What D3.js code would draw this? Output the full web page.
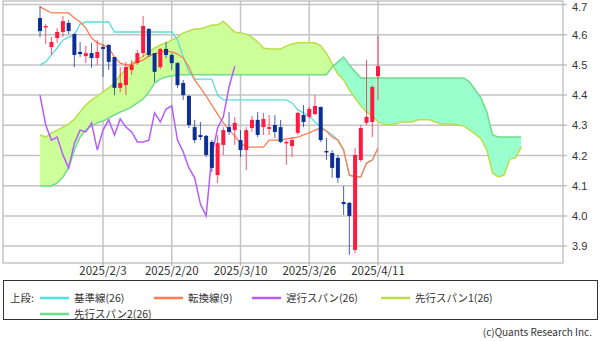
<!DOCTYPE html>
<html>
<head>
<meta charset="utf-8">
<script src="https://cdn.jsdelivr.net/npm/d3@7"></script>
<style>
body { margin: 0; background: #fff; }
text { font-family: "Noto Sans CJK JP", "Noto Sans", sans-serif; fill: #333; }
text.ptick { font-family: "Liberation Sans", Arial, sans-serif; }
</style>
</head>
<body>
<svg id="chart" width="601" height="341"></svg>
<script>
// daily candles, 2025/1/16 .. 2025/4/11
const opens = [4.655,4.626,4.559,4.589,4.609,4.639,4.602,4.543,4.529,4.539,4.523,4.559,4.566,4.526,4.424,4.433,4.483,4.506,4.539,4.619,
    4.539,4.493,4.553,4.533,4.506,4.440,4.397,4.294,4.268,4.265,4.245,4.135,4.235,4.294,4.284,4.251,4.218,4.291,4.318,4.294,
    4.288,4.301,4.294,4.241,4.231,4.275,4.334,4.328,4.337,4.361,4.215,4.208,4.192,4.046,4.043,3.887,4.185,4.308,4.311,4.463];
const highs = [4.695,4.635,4.592,4.622,4.662,4.649,4.606,4.576,4.563,4.573,4.582,4.566,4.569,4.526,4.493,4.510,4.516,4.549,4.662,4.622,
    4.539,4.556,4.576,4.539,4.510,4.450,4.400,4.318,4.311,4.268,4.251,4.268,4.294,4.344,4.328,4.284,4.294,4.331,4.344,4.341,
    4.334,4.334,4.318,4.251,4.258,4.344,4.367,4.361,4.400,4.361,4.258,4.218,4.202,4.099,4.046,4.225,4.301,4.516,4.433,4.596];
const lows = [4.592,4.569,4.533,4.573,4.592,4.602,4.493,4.526,4.506,4.490,4.500,4.460,4.483,4.400,4.410,4.400,4.467,4.500,4.526,4.526,
    4.443,4.486,4.523,4.483,4.424,4.384,4.291,4.241,4.251,4.195,4.145,4.109,4.202,4.268,4.235,4.195,4.152,4.278,4.261,4.268,
    4.268,4.258,4.241,4.169,4.195,4.268,4.294,4.324,4.334,4.245,4.185,4.126,4.109,4.003,3.871,3.877,4.179,4.301,4.261,4.384];
const closes = [4.612,4.629,4.576,4.609,4.645,4.612,4.533,4.536,4.539,4.523,4.543,4.553,4.510,4.424,4.440,4.493,4.500,4.539,4.629,4.533,
    4.477,4.553,4.533,4.506,4.433,4.400,4.301,4.251,4.261,4.202,4.159,4.241,4.284,4.278,4.308,4.218,4.284,4.318,4.268,4.321,
    4.294,4.278,4.245,4.245,4.251,4.341,4.311,4.354,4.364,4.251,4.212,4.159,4.126,4.039,4.000,4.202,4.291,4.328,4.427,4.496];

const tenkan = [4.692,4.682,4.672,4.672,4.672,4.672,4.655,4.642,4.622,4.589,4.573,4.566,4.556,4.526,4.506,4.500,4.500,4.510,4.516,4.529,
    4.536,4.543,4.546,4.543,4.536,4.523,4.493,4.450,4.424,4.397,4.367,4.337,4.308,4.284,4.265,4.241,4.228,4.228,4.228,4.228,
    4.251,4.251,4.251,4.255,4.258,4.261,4.268,4.275,4.284,4.291,4.281,4.261,4.251,4.218,4.135,4.129,4.129,4.175,4.185,4.225];
const kijun = [4.500,4.510,4.533,4.556,4.582,4.592,4.599,4.635,4.642,4.642,4.642,4.642,4.642,4.609,4.609,4.609,4.609,4.609,4.609,4.609,
    4.609,4.609,4.609,4.609,4.582,4.526,4.477,4.453,4.453,4.453,4.453,4.400,4.384,4.384,4.384,4.384,4.384,4.384,4.384,4.384,
    4.384,4.384,4.384,4.384,4.374,4.351,4.341,4.331,4.311,4.294,4.281,4.268,4.251,4.218,4.135,4.129,4.129,4.175,4.185,4.225];

// leading spans, already shifted forward (85 points)
const spanA = [4.268,4.261,4.275,4.284,4.294,4.304,4.321,4.344,4.367,4.384,
    4.397,4.410,4.424,4.440,4.467,4.486,4.506,4.516,4.529,4.543,
    4.556,4.566,4.573,4.582,4.592,4.606,4.612,4.619,4.619,4.626,
    4.632,4.632,4.645,4.626,4.609,4.606,4.602,4.592,4.576,4.556,
    4.553,4.553,4.553,4.563,4.569,4.573,4.573,4.573,4.573,4.563,
    4.539,4.503,4.470,4.450,4.417,4.390,4.364,4.344,4.331,4.311,
    4.304,4.301,4.304,4.311,4.311,4.311,4.318,4.318,4.318,4.311,
    4.304,4.304,4.304,4.301,4.298,4.284,4.271,4.255,4.218,4.142,
    4.129,4.135,4.188,4.192,4.228];
const spanB = [4.099,4.099,4.099,4.109,4.129,4.159,4.218,4.261,4.284,4.298,
    4.308,4.314,4.324,4.334,4.344,4.351,4.361,4.374,4.387,4.410,
    4.440,4.453,4.460,4.463,4.467,4.467,4.467,4.467,4.467,4.467,
    4.467,4.467,4.467,4.467,4.467,4.467,4.467,4.467,4.467,4.467,
    4.467,4.467,4.467,4.467,4.467,4.467,4.467,4.467,4.467,4.467,
    4.467,4.493,4.510,4.526,4.500,4.477,4.457,4.457,4.457,4.457,
    4.457,4.457,4.457,4.457,4.457,4.457,4.457,4.457,4.457,4.457,
    4.457,4.457,4.457,4.457,4.457,4.443,4.417,4.390,4.344,4.268,
    4.261,4.261,4.261,4.261,4.261];

const chikouShift = 25;
const tickIndex = [11, 23, 35, 47, 59];
const tickLabels = ["2025/2/3", "2025/2/20", "2025/3/10", "2025/3/26", "2025/4/11"];
const priceTicks = [3.9, 4.0, 4.1, 4.2, 4.3, 4.4, 4.5, 4.6, 4.7];

const legendItems = [
    { label: "基準線(26)", color: "#55dede", x: 40, row: 0 },
    { label: "転換線(9)", color: "#ff7d55", x: 154, row: 0 },
    { label: "遅行スパン(26)", color: "#b45cff", x: 252, row: 0 },
    { label: "先行スパン1(26)", color: "#bcdc4a", x: 381, row: 0 },
    { label: "先行スパン2(26)", color: "#6fdc8c", x: 40, row: 1 },
];

const plotLeft = 3, plotRight = 563, plotTop = 1, plotBottom = 263;

const svg = d3.select("#chart");
const x = d3.scaleLinear().domain([0, 59]).range([40, 378]);
const y = d3.scaleLinear().domain([3.9, 4.7]).range([246.1, 4.5]);

// grid
const grid = svg.append("g");
grid.selectAll(".hgrid")
    .data(priceTicks)
    .enter()
    .append("line")
    .attr("x1", plotLeft).attr("x2", plotRight + 4)
    .attr("y1", d => y(d)).attr("y2", d => y(d))
    .style("stroke", "#c4c4c4").style("stroke-width", 1.5);

grid.selectAll(".vgrid")
    .data(tickIndex)
    .enter()
    .append("line")
    .attr("x1", d => x(d)).attr("x2", d => x(d))
    .attr("y1", plotTop).attr("y2", plotBottom + 3)
    .style("stroke", "#c4c4c4").style("stroke-width", 1.5);

svg.selectAll(".ptick")
    .data(priceTicks)
    .enter()
    .append("text")
    .attr("class", "ptick")
    .attr("x", 572).attr("y", d => Math.max(y(d) + 4, 10.5))
    .style("font-size", "11px")
    .text(d => d.toFixed(1));

svg.selectAll(".dtick")
    .data(tickIndex)
    .enter()
    .append("text")
    .attr("x", d => x(d)).attr("y", 275)
    .attr("text-anchor", "middle")
    .style("font-size", "11.5px")
    .text((d, i) => tickLabels[i]);

// plot clip
const defs = svg.append("defs");
defs.append("clipPath").attr("id", "plot")
    .append("rect").attr("x", plotLeft).attr("y", plotTop)
    .attr("width", plotRight - plotLeft).attr("height", plotBottom - plotTop);

const plot = svg.append("g").attr("clip-path", "url(#plot)");

// cloud: colour depends on which span is on top
const cloudIdx = d3.range(spanA.length);
defs.append("clipPath").attr("id", "aboveB")
    .append("path")
    .attr("d", d3.area().x(i => x(i)).y0(0).y1(i => y(spanB[i]))(cloudIdx));
defs.append("clipPath").attr("id", "belowB")
    .append("path")
    .attr("d", d3.area().x(i => x(i)).y0(plotBottom).y1(i => y(spanB[i]))(cloudIdx));

const cloud = d3.area().x(i => x(i)).y0(i => y(spanA[i])).y1(i => y(spanB[i]));
plot.append("path").attr("d", cloud(cloudIdx))
    .style("fill", "#ccff99").attr("clip-path", "url(#aboveB)");
plot.append("path").attr("d", cloud(cloudIdx))
    .style("fill", "#99ffcc").attr("clip-path", "url(#belowB)");

function drawLine(values, color, width) {
    const line = d3.line().x((d, i) => x(i)).y(d => y(d));
    plot.append("path")
        .attr("d", line(values))
        .style("fill", "none")
        .style("stroke", color)
        .style("stroke-width", width);
}

drawLine(spanA, "#bcdc4a", 1.5);
drawLine(spanB, "#6fdc8c", 1.5);
drawLine(kijun, "#55dede", 1.3);
drawLine(tenkan, "#ff7d55", 1.3);
drawLine(closes.slice(chikouShift), "#b45cff", 1.5);

// candles
const candleIdx = d3.range(closes.length);
const upColor = "#ff1a40", downColor = "#0d2f94";
const candle = plot.selectAll(".candle")
    .data(candleIdx)
    .enter()
    .append("g");

candle.append("line")
    .attr("x1", i => x(i)).attr("x2", i => x(i))
    .attr("y1", i => y(highs[i])).attr("y2", i => y(lows[i]))
    .style("stroke", i => closes[i] >= opens[i] ? upColor : downColor)
    .style("stroke-opacity", 0.75)
    .style("stroke-width", 1);

candle.append("rect")
    .attr("x", i => x(i) - 2)
    .attr("width", 4)
    .attr("y", i => y(Math.max(opens[i], closes[i])))
    .attr("height", i => Math.max(1.5, Math.abs(y(opens[i]) - y(closes[i]))))
    .style("fill", i => closes[i] >= opens[i] ? upColor : downColor);

// frame
svg.append("rect")
    .attr("x", plotLeft).attr("y", plotTop)
    .attr("width", plotRight - plotLeft).attr("height", plotBottom - plotTop)
    .style("fill", "none").style("stroke", "#aaa").style("stroke-width", 1);

// legend
const legend = svg.append("g");
legend.append("rect")
    .attr("x", 3.5).attr("y", 280.5).attr("width", 594).attr("height", 39)
    .style("fill", "none").style("stroke", "#333").style("stroke-width", 1);
legend.append("text").attr("x", 10).attr("y", 302).style("font-size", "10.5px").text("上段:");

const item = legend.selectAll(".item")
    .data(legendItems)
    .enter()
    .append("g")
    .attr("transform", d => `translate(${d.x},${298 + d.row * 16})`);
item.append("line")
    .attr("x1", 0).attr("x2", 29)
    .style("stroke", d => d.color).style("stroke-width", 2.5);
item.append("text")
    .attr("x", 34).attr("y", 4)
    .style("font-size", "10.5px")
    .text(d => d.label);

svg.append("text")
    .attr("x", 592).attr("y", 336)
    .attr("text-anchor", "end")
    .style("font-size", "10px")
    .text("(c)Quants Research Inc.");
</script>
</body>
</html>
